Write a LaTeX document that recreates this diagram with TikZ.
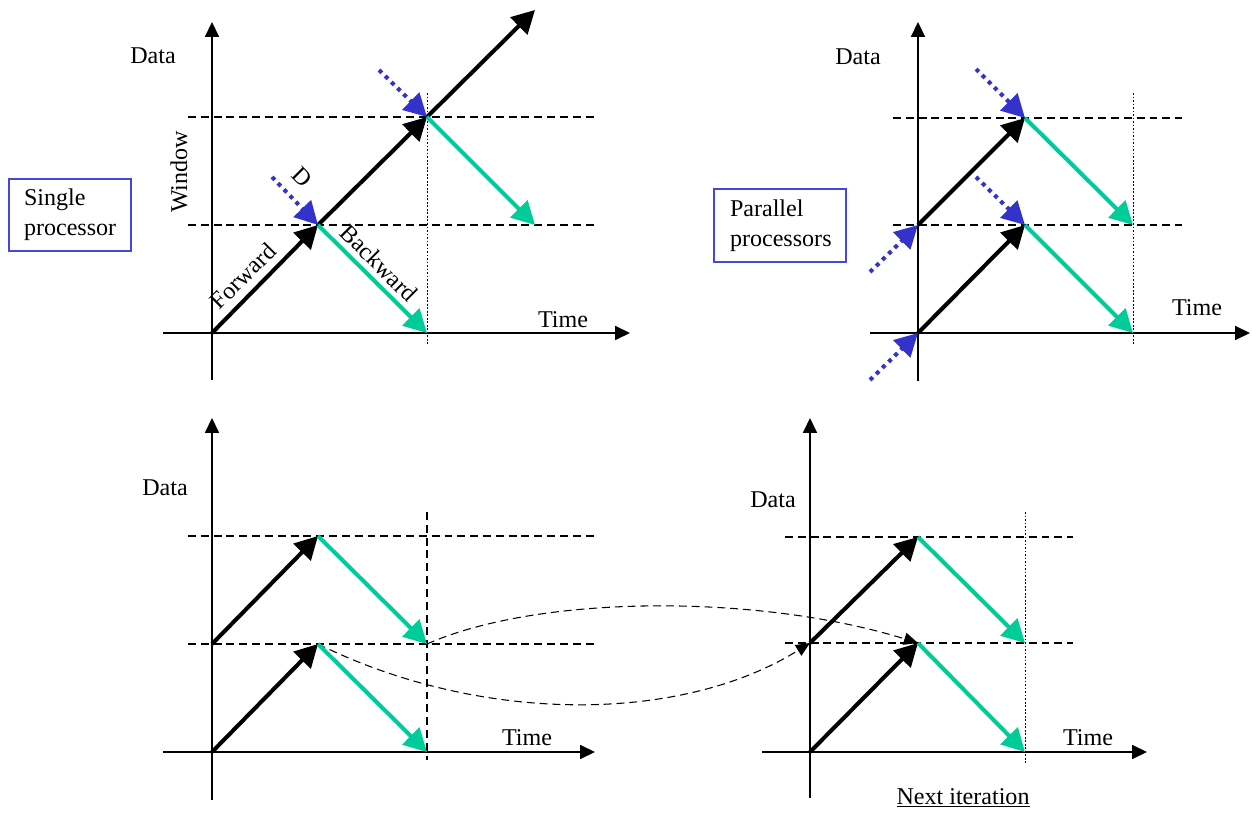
\documentclass[tikz,border=0pt]{standalone}
\usepackage{fontspec}
\setmainfont{Liberation Serif}
\usetikzlibrary{arrows.meta}
\definecolor{bwdgreen}{RGB}{0,204,153}
\definecolor{dblue}{RGB}{51,51,204}
\definecolor{boxblue}{RGB}{70,70,220}

\begin{document}
\begin{tikzpicture}[x=0.02cm,y=-0.02cm,>={Triangle[length=13pt,width=13.5pt]},font=\fontsize{13.7}{17}\selectfont]
		\tikzstyle{axis}=[line width=0.85pt, -{Triangle[length=8.5pt,width=8pt]}]
		\tikzstyle{fwd}=[line width=2.3pt, ->]
		\tikzstyle{bwd}=[line width=2.3pt, color=bwdgreen, ->]
		\tikzstyle{delay}=[line width=2.3pt, color=dblue, dash pattern=on 2.3pt off 2.6pt, ->]
		\tikzstyle{window}=[line width=0.6pt, dash pattern=on 4.5pt off 2.8pt]
		\tikzstyle{cut}=[line width=0.5pt, dash pattern=on 1pt off 1pt]
		\tikzstyle{hop}=[line width=0.6pt, dash pattern=on 4.5pt off 2.8pt, -{Triangle[length=8pt,width=7pt]}]
		\tikzstyle{label box}=[draw=boxblue, line width=0.6pt, align=left, inner ysep=0pt]

		\useasboundingbox (0,0) rectangle (1252,817);

		% single processor
		\coordinate (o1) at (212,333);
		\coordinate (p1) at (318,225);
		\coordinate (q1) at (427,117);
		\coordinate (r1) at (535,10);
		\coordinate (s1) at (427,333);
		\coordinate (t1) at (535,225);
		\coordinate (d1) at (272,177);
		\coordinate (e1) at (379,70);
		\draw[window] (188,117) -- (596,117);
		\draw[window] (188,225) -- (596,225);
		\draw[cut] (427,93) -- (427,344);
		\draw[axis] (163,333) -- (630,333);
		\draw[axis] (212,380) -- (212,22);
		\draw[fwd] (o1) -- (p1);
		\draw[fwd] (p1) -- (q1);
		\draw[fwd] (q1) -- (r1);
		\draw[bwd] (p1) -- (s1);
		\draw[bwd] (q1) -- (t1);
		\draw[delay] (d1) -- (p1);
		\draw[delay] (e1) -- (q1);
		\node (data1) at (153,56) {Data};
		\node (time1) at (563,320) {Time};
		\node[rotate=90] (win1) at (179,172) {Window};
		\node[rotate=-45] (dly1) at (302,177) {D};
		\node[rotate=45] (fw1) at (243,276) {Forward};
		\node[rotate=-45] (bw1) at (379,263) {Backward};
		\node[label box, text width=1.84cm, inner xsep=0.3cm, minimum height=1.44cm] (single) at (70,215) {Single\\processor};

		% parallel processors
		\coordinate (o2) at (918,333);
		\coordinate (m2) at (918,225);
		\coordinate (p2) at (1025,225);
		\coordinate (q2) at (1025,118);
		\coordinate (s2) at (1133,333);
		\coordinate (t2) at (1133,225);
		\draw[window] (893,118) -- (1182,118);
		\draw[window] (893,225) -- (1182,225);
		\draw[cut] (1133,93) -- (1133,344);
		\draw[axis] (870,333) -- (1250,333);
		\draw[axis] (918,381) -- (918,22);
		\draw[fwd] (o2) -- (p2);
		\draw[fwd] (m2) -- (q2);
		\draw[bwd] (p2) -- (s2);
		\draw[bwd] (q2) -- (t2);
		\draw[delay] (976,177) -- (p2);
		\draw[delay] (976,69) -- (q2);
		\draw[delay] (870,272) -- (m2);
		\draw[delay] (870,380) -- (o2);
		\node (data2) at (858,57) {Data};
		\node (time2) at (1197,308) {Time};
		\node[label box, text width=2.0cm, inner xsep=0.32cm, minimum height=1.46cm] (parallel) at (780,225.5) {Parallel\\processors};

		% iteration i
		\coordinate (o3) at (212,752);
		\coordinate (m3) at (212,644);
		\coordinate (p3) at (318,644);
		\coordinate (q3) at (318,536);
		\coordinate (s3) at (427,752);
		\coordinate (t3) at (427,644);
		\draw[window] (188,536) -- (596,536);
		\draw[window] (188,644) -- (596,644);
		\draw[window] (427,512) -- (427,760);
		\draw[axis] (163,752) -- (595,752);
		\draw[axis] (212,800) -- (212,418);
		\node (data3) at (165,488) {Data};
		\node (time3) at (527,738) {Time};

		% next iteration
		\coordinate (o4) at (810,752);
		\coordinate (m4) at (810,643);
		\coordinate (p4) at (918,643);
		\coordinate (q4) at (918,537);
		\coordinate (s4) at (1025,752);
		\coordinate (t4) at (1025,643);
		\draw[window] (785,537) -- (1073,537);
		\draw[window] (785,643) -- (1073,643);
		\draw[cut] (1025,512) -- (1025,763);
		\draw[axis] (762,752) -- (1147,752);
		\draw[axis] (810,798) -- (810,418);
		\node (data4) at (773,500) {Data};
		\node (time4) at (1088,738) {Time};
		\node (next) at (963,798) {\underline{Next iteration}};

		\draw[hop] (t3) .. controls (540,594) and (760,594) .. (p4);
		\draw[hop] (p3) .. controls (480,724) and (680,724) .. (m4);

		\draw[fwd] (o3) -- (p3);
		\draw[fwd] (m3) -- (q3);
		\draw[bwd] (p3) -- (s3);
		\draw[bwd] (q3) -- (t3);
		\draw[fwd] (o4) -- (p4);
		\draw[fwd] (m4) -- (q4);
		\draw[bwd] (p4) -- (s4);
		\draw[bwd] (q4) -- (t4);
	\end{tikzpicture}
\end{document}
